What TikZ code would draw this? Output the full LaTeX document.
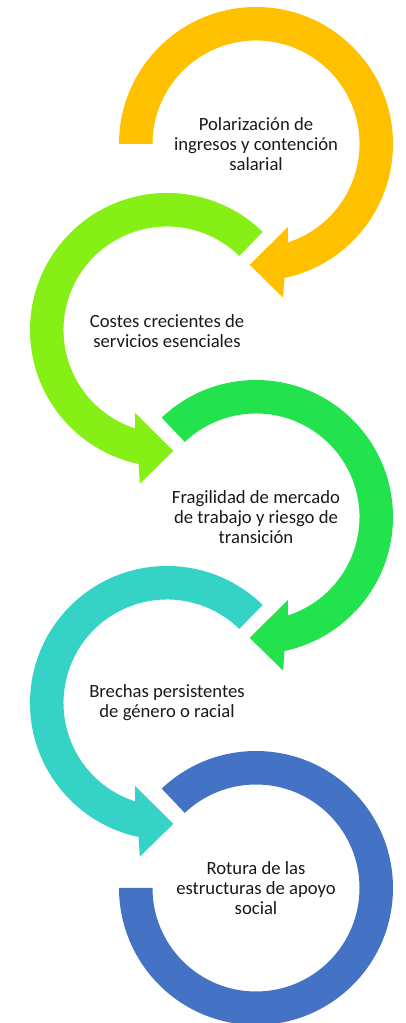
\documentclass[tikz,border=0pt]{standalone}
\usepackage{fontspec}
\setmainfont{Carlito}
\usepackage{tikz}
\usetikzlibrary{positioning}
\definecolor{ringgold}{HTML}{FFC000}
\definecolor{ringlime}{HTML}{86EF15}
\definecolor{ringgreen}{HTML}{22E24D}
\definecolor{ringteal}{HTML}{35D3C5}
\definecolor{ringblue}{HTML}{4472C4}
\tikzset{
  label/.style={
    align=center, text=black!90, font=\fontsize{14}{15}\selectfont
  }
}
% ring arrow turning clockwise: centre, colour, start angle
\newcommand{\ringcw}[3]{%
  \begin{scope}[shift={(#1)}]
    \fill[#2] (#3:137) arc[start angle=#3, end angle=-78, radius=137]
      -- (-80:156) -- (-93:121) -- (-69:89) -- (-72:103.5)
      arc[start angle=-72, end angle=#3, radius=103.5] -- cycle;
  \end{scope}}
% ring arrow turning counter-clockwise
\newcommand{\ringccw}[3]{%
  \begin{scope}[shift={(#1)}]
    \fill[#2] (#3:137) arc[start angle=#3, end angle=258, radius=137]
      -- (260:156) -- (273:121) -- (249:89) -- (252:103.5)
      arc[start angle=252, end angle=#3, radius=103.5] -- cycle;
  \end{scope}}

\begin{document}
\begin{tikzpicture}[x=0.75pt, y=0.75pt]
\useasboundingbox (0,0) rectangle (405,1023);
% centres of the rings
\coordinate (c1) at (256,879);
\coordinate (c2) at (167,693);
\coordinate (c3) at (256,506);
\coordinate (c4) at (167,320);
\coordinate (c5) at (256,135);

\ringcw{c1}{ringgold}{180}
\ringccw{c2}{ringlime}{45.7}
\ringcw{c3}{ringgreen}{133.5}
\ringccw{c4}{ringteal}{45.7}
% last ring has no head
\fill[ringblue, shift={(c5)}] (133.5:137) arc[start angle=133.5, end angle=-180, radius=137]
  -- (180:103.5) arc[start angle=-180, end angle=133.5, radius=103.5] -- cycle;

\node[label] (polar) at (c1) {Polarización de\\ingresos y contención\\salarial};
\node[label] (costes) at ([yshift=-1pt]c2) {Costes crecientes de\\servicios esenciales};
\node[label] (fragil) at (c3) {Fragilidad de mercado\\de trabajo y riesgo de\\transición};
\node[label] (brechas) at (c4) {Brechas persistentes\\de género o racial};
\node[label] (rotura) at (c5) {Rotura de las\\estructuras de apoyo\\social};
\end{tikzpicture}
\end{document}
